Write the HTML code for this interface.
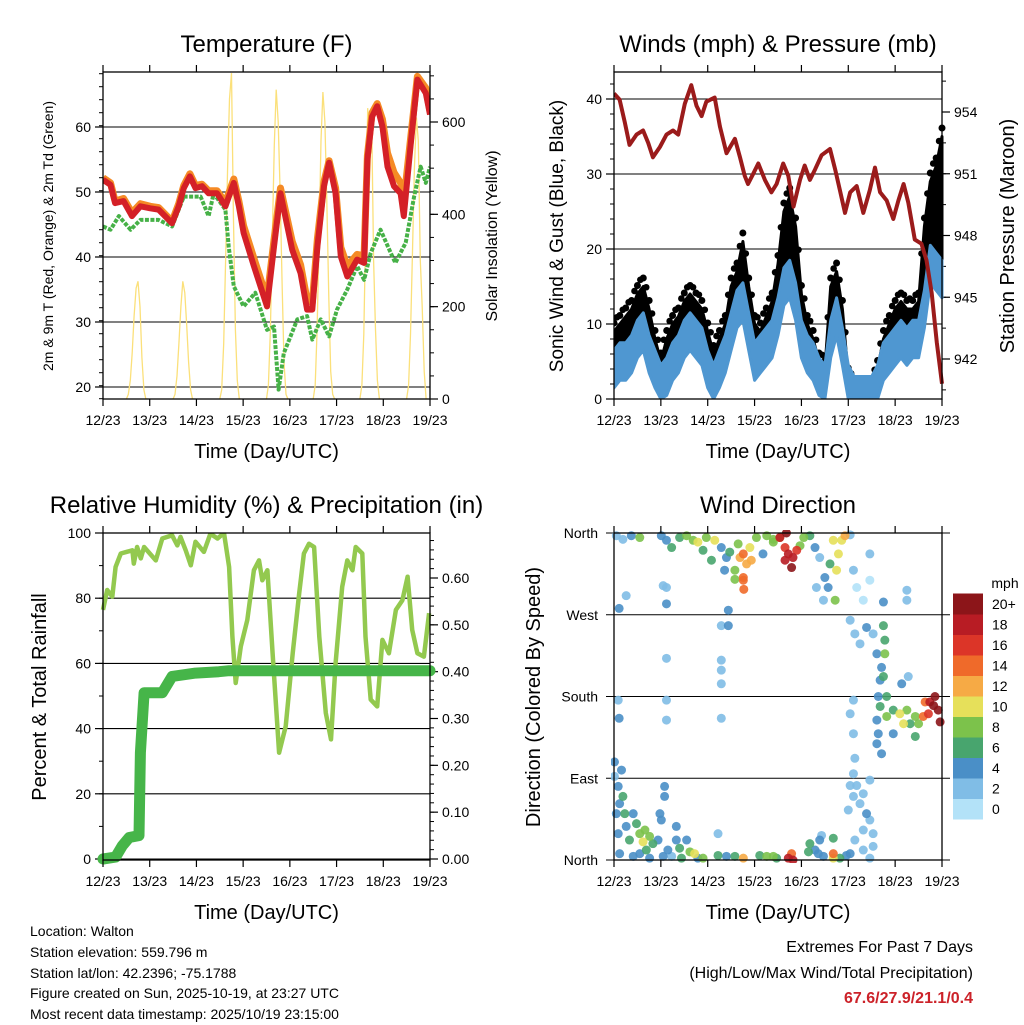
<!DOCTYPE html>
<html><head><meta charset="utf-8"><style>
body{margin:0;background:#fff}
svg{display:block;font-family:"Liberation Sans",sans-serif}
</style></head><body>
<svg id="c" width="1024" height="1024" viewBox="0 0 1024 1024">
<g id="layer"></g>
</svg>
<script>
// ---------- Temperature data ----------
const tempTimes=[0,.16,.26,.44,.62,.8,1.01,1.19,1.48,1.62,1.73,1.86,1.98,2.12,2.26,2.44,2.62,2.8,2.91,3.01,3.23,3.51,3.66,3.8,4.05,4.23,4.37,4.48,4.59,4.73,4.84,4.98,5.09,5.23,5.44,5.59,5.66,5.76,5.87,5.98,6.09,6.23,6.37,6.44,6.59,6.73,6.91,7.0];
const temp2m=[51.9,51.1,48.3,48.6,46.3,47.8,47.5,47.3,45.2,47.8,50.6,52.4,50.6,50.9,49.8,49.8,47.8,51.4,47.8,43.7,38.6,32.4,41.6,49.8,41.1,37.5,31.9,31.9,41.6,50.9,54.5,49.8,40.1,37,39.6,39.1,55,61.6,63.2,60.1,53.9,50.9,49.8,46.3,57.5,67.3,65.2,61.9];
const temp9m=[52.2,51.4,48.6,49,46.8,48.2,47.8,47.6,45.5,48.2,51,52.8,51,51.2,50.2,50.2,48.4,52,48.6,44.8,39.8,33.6,42.6,50.6,42.4,38.8,33.4,33,42.8,51.6,54.8,50.6,41.5,38.6,40.4,40.2,55.6,62.2,63.6,61.2,56,53,51.4,48.6,58.5,67.8,66,62.4];
const dewTimes=[0,.16,.34,.59,.8,1.19,1.48,1.73,2.09,2.26,2.37,2.62,2.69,2.8,3.01,3.26,3.51,3.66,3.76,3.87,4.16,4.37,4.48,4.66,4.84,5.01,5.23,5.44,5.59,5.73,5.94,6.16,6.26,6.48,6.66,6.8,6.91,7.0];
const dewVals=[44.7,44.2,46.3,44.2,45.7,45.7,44.7,49.3,49.3,46.3,49.8,47.3,41.6,35.5,32.4,34.5,28.8,29.3,19.6,25.2,30.4,30.9,27.3,30.4,27.8,31.9,35,38.6,36.5,40.6,44.2,40.6,39.1,42.2,49.3,53.9,51.4,53.9];
const solarHours=[12,13,14,15,16,17,18,19,20,21,22,23];
const solarDay0=[0,10,40,100,180,240,255,200,90,20,0,0];
const solarDay1=[0,10,50,120,200,255,230,160,80,20,0,0];
const solarDay2=[0,20,120,300,500,650,706,400,150,40,0,0];
const solarDay3=[0,30,150,350,550,670,600,450,250,80,10,0];
const solarDay4=[0,30,150,350,560,665,600,430,220,60,10,0];
const solarDay5=[0,30,140,380,630,560,620,300,150,40,0,0];
const solarDay6=[0,30,140,320,500,610,560,300,200,60,0,0];
const dayLabels=["12/23","13/23","14/23","15/23","16/23","17/23","18/23","19/23"];
const tempTicks=[20,30,40,50,60];
const solarTicks=[0,200,400,600];
// ---------- Wind data ----------
const windTimes=[0,.125,.25,.375,.5,.625,.75,.875,1,1.125,1.25,1.375,1.5,1.625,1.75,1.875,2,2.125,2.25,2.375,2.5,2.625,2.75,2.875,3,3.125,3.25,3.375,3.5,3.625,3.75,3.875,4,4.125,4.25,4.375,4.5,4.625,4.75,4.875,5,5.125,5.25,5.375,5.5,5.625,5.75,5.875,6,6.125,6.25,6.375,6.5,6.625,6.75,6.875,7];
const windSpeed=[4,5,5,6,8,9,6,4,2,3,5,6,8,9,8,7,4,2,4,6,9,12,13,9,5,6,7,8,11,15,16,13,8,6,5,3,2,8,11,7,2,.5,.5,.5,.5,2,5,6,7,8,7,8,8,12,18,17,16];
const windGust=[10,11,12,13,15,16,13,9,6,9,11,12,14,15,14,13,10,7,9,11,16,18,22,16,11,10,12,14,19,26,28,24,15,11,9,6,5,16,18,13,4,2,2,2,2,5,9,11,13,14,13,13,14,24,30,32,36];
const presTimes=[0,.12,.23,.33,.48,.62,.73,.83,.98,1.12,1.26,1.37,1.51,1.65,1.76,1.87,1.97,2.15,2.26,2.4,2.58,2.69,2.79,2.86,2.97,3.08,3.22,3.36,3.47,3.61,3.72,3.83,3.97,4.07,4.18,4.29,4.43,4.61,4.72,4.82,4.93,5.04,5.18,5.32,5.46,5.57,5.68,5.82,5.96,6.07,6.18,6.28,6.42,6.56,6.67,6.78,6.89,7.0];
const presVals=[954.9,954.6,953.5,952.4,952.9,953.1,952.5,951.8,952.3,952.9,953.1,952.9,954.4,955.3,954.3,953.8,954.5,954.7,953.3,952,952.7,951.8,950.9,950.5,951,951.5,950.7,950.1,950.5,951.5,950.9,949.4,950.7,951.4,950.7,951.2,951.9,952.2,951.2,950.2,949.1,950.1,950.4,949.1,950.2,951.3,950.1,949.7,948.8,949.7,950.5,949.6,947.8,947.6,946.8,945.2,942.8,940.8];
const windTicks=[0,10,20,30,40];
const presTicks=[942,945,948,951,954];
// ---------- RH / precip ----------
const rhTimes=[0,.09,.2,.27,.38,.63,.66,.73,.81,.88,1.13,1.27,1.48,1.59,1.66,1.77,1.88,1.98,2.16,2.3,2.45,2.59,2.7,2.77,2.84,2.95,3.09,3.23,3.34,3.41,3.52,3.63,3.77,3.91,4.06,4.2,4.3,4.41,4.52,4.63,4.77,4.88,4.98,5.12,5.23,5.34,5.41,5.55,5.62,5.73,5.87,5.98,6.12,6.27,6.41,6.52,6.62,6.73,6.87,6.98];
const rhVals=[76.4,82.5,80.5,89.6,93.7,94.7,90.6,95.7,92.2,95.7,91.6,98.3,99.3,96.2,98.8,94.7,90.1,97.3,94.2,99.8,98.3,100,89.6,68.2,54,65.2,73.3,88.6,91.6,85.5,88.6,63.1,32.6,40.7,63.1,81.5,93.7,96.7,95.7,68.2,44.8,36.7,60.1,83.5,91.6,88.6,95.7,93.7,68.2,48.9,46.8,67.2,63.1,76.4,79.4,86.6,70.3,63.1,62.1,75.4];
const precipTimes=[0,.27,.41,.56,.77,.8,.88,1.27,1.48,1.98,2.48,2.7,7.0];
const precipVals=[0,.004,.028,.046,.05,.227,.355,.355,.39,.397,.40,.402,.402];
const rhTicks=[0,20,40,60,80,100];
const precipTicks=[0,.1,.2,.3,.4,.5,.6];
// ---------- Wind direction ----------
const dirTimes=[.05,.19,.37,.55,.26,.11,1.01,1.12,1.23,1.40,1.55,1.69,1.79,1.90,1.97,2.15,2.08,2.29,2.40,2.36,2.47,2.58,2.65,2.76,2.83,2.76,2.77,2.90,3.04,3.18,3.26,3.40,3.54,3.65,3.72,3.82,3.79,3.90,3.97,4.05,4.18,4.29,4.39,4.50,4.57,4.61,4.68,4.79,4.75,4.86,4.93,5.04,5.11,5.18,5.32,5.46,5.46,1.12,1.12,1.05,2.44,2.29,2.44,2.76,2.58,2.93,2.69,3.40,3.54,3.65,3.68,4.72,4.32,4.47,6.25,6.25,5.75,
5.04,5.14,5.25,5.39,5.53,5.61,5.75,5.78,5.78,5.71,5.68,5.75,5.64,5.68,5.61,5.64,5.71,5.61,5.82,5.82,5.96,6.10,6.18,6.25,6.32,6.43,6.50,6.43,5.96,6.14,6.28,6.64,6.74,6.82,6.92,6.96,6.71,6.60,6.85,5.11,5.04,5.11,5.14,5.11,5.04,5.18,5.46,5.32,5.11,5.25,5.00,5.39,5.46,5.32,5.14,5.32,5.53,5.04,5.46,5.53,1.12,1.12,2.29,.09,.11,1.12,2.29,2.29,2.29,
.01,.01,.09,.16,.12,.05,.19,.23,.26,.41,.09,.33,.48,.55,.66,.76,.83,.62,.55,.69,.94,.98,1.08,1.08,1.01,1.05,1.15,1.33,1.23,1.33,1.40,1.55,1.62,1.72,1.79,1.90,2.22,2.22,2.40,2.58,2.76,3.11,3.26,3.40,3.47,3.72,3.79,3.82,4.15,4.18,4.29,4.36,4.39,4.43,4.47,4.68,4.68,4.68,4.82,4.96,.12,.41,.76,1.44];
const dirDegrees=[357,353,357,355,291,277,357,352,344,355,357,352,350,341,355,352,330,344,333,319,339,309,348,337,326,308,298,344,355,337,357,353,355,344,337,333,322,341,346,355,357,344,333,311,300,326,352,337,319,352,357,358,319,300,286,337,308,300,282,302,275,258,258,311,319,330,333,350,355,330,360,286,300,286,297,286,284,
264,249,238,256,249,227,258,242,227,212,198,202,180,169,154,139,117,128,180,158,165,161,150,165,150,158,150,136,139,194,202,174,174,170,165,152,161,158,180,176,161,139,112,95,82,82,88,73,70,62,55,51,44,33,22,11,15,7,2,29,176,154,156,176,156,222,220,209,194,
108,92,81,99,62,51,70,51,37,51,29,22,40,29,33,26,18,20,7,11,22,51,81,70,44,4,11,37,4,22,13,22,9,7,2,2,5,29,4,4,2,5,4,4,2,2,7,0,9,18,11,7,22,27,4,24,7,2,2,5,7,4,2,2];
const dirSpeeds=[2,2,4,7,2,4,4,4,5,6,8,7,10,6,7,10,5,4,4,4,6,7,8,13,12,14,13,9,8,4,8,7,18,16,17,18,19,15,8,7,6,3,2,4,4,6,9,10,10,9,12,1,1,0,0,1,0,2,4,1,3,1,3,13,7,12,11,7,11,17,19,7,1,1,1,1,3,
1,1,1,4,1,4,6,6,7,4,4,6,4,5,4,4,4,4,5,7,6,10,9,7,6,7,7,6,4,4,2,14,18,20,21,19,16,14,20,1,1,1,2,1,2,2,1,2,1,1,1,4,1,2,1,1,1,4,1,1,2,2,1,2,3,1,1,1,1,
4,2,4,4,3,4,6,6,4,4,4,5,5,8,8,8,6,10,4,5,4,4,3,3,4,3,4,3,2,4,5,4,7,9,3,8,5,2,4,6,12,5,7,7,6,18,13,17,5,6,4,3,4,2,4,6,13,10,6,4,4,3,4,6];
const dirTickLabels=["North","East","South","West","North"];
const dirTickValues=[0,90,180,270,360];
const speedBinLabels=["0","2","4","6","8","10","12","14","16","18","20+"];
const speedBinColors=["#b3e2f8","#80bde6","#4a8fc7","#48a56e","#7cc24b","#e6e05a","#f6aa45","#ef6a2a","#dc3528","#b81c24","#8c1519"];

const NS="http://www.w3.org/2000/svg";
const root=document.getElementById('layer');
function mk(tag,attrs,parent){const e=document.createElementNS(NS,tag);for(const k in attrs)e.setAttribute(k,attrs[k]);(parent||root).appendChild(e);return e;}
function txt(s,x,y,size,anchor,parent,extra){const e=mk('text',Object.assign({x:x,y:y,'font-size':size,'text-anchor':anchor||'middle',fill:'#000'},extra||{}),parent);e.textContent=s;return e;}
function lin(d0,d1,r0,r1){return v=>r0+(v-d0)*(r1-r0)/(d1-d0);}

function panel(name,L,R,T,B,title){
  const g=mk('g',{});
  
  
  const xs=lin(0,7,L,R);
  const t=txt(title,(L+R)/2,T-20,24,'middle',g);
  
  
  return {g,xs};
}
function frame(p,L,R,T,B){
  const g=mk('g',{},p.g);
  
  
  mk('rect',{x:L,y:T,width:R-L,height:B-T,fill:'none',stroke:'#000','stroke-width':1.3},g);
  for(let i=0;i<=7;i++){const x=p.xs(i);
    mk('line',{x1:x,x2:x,y1:B,y2:B+7,stroke:'#000','stroke-width':1.2},g);
    mk('line',{x1:x,x2:x,y1:T,y2:T-7,stroke:'#000','stroke-width':1.2},g);
    const l=txt(dayLabels[i],x,B+26,14,'middle',g);
    
    
  }
  const xt=txt('Time (Day/UTC)',(L+R)/2,B+59,20,'middle',g);
  
  
}
function yAxis(p,L,R,ys,ticks,fmt,side,minorStep,grid,dmin,dmax){
  const g=mk('g',{},p.g);
  
  
  const X=side==='left'?L:R, dir=side==='left'?-1:1;
  if(minorStep){for(let v=dmin;v<=dmax+1e-9;v+=minorStep){const y=ys(v);mk('line',{x1:X,x2:X+dir*4,y1:y,y2:y,stroke:'#000','stroke-width':1},g);}}
  ticks.forEach(v=>{const y=ys(v);
    if(grid)mk('line',{x1:L,x2:R,y1:y,y2:y,stroke:'#000','stroke-width':1.1},g);
    mk('line',{x1:X,x2:X+dir*8,y1:y,y2:y,stroke:'#000','stroke-width':1.2},g);
    const l=txt(fmt(v),X+dir*12,y+5,14,side==='left'?'end':'start',g);
    
    
  });
}
function vtitle(s,x,y,size,parent,name){const e=txt(s,x,y,size,'middle',parent,{transform:`rotate(-90 ${x} ${y})`});}
function path(xsArr,ysArr,xs,ys){return xsArr.map((t,i)=>(i?'L':'M')+xs(t).toFixed(1)+','+ys(ysArr[i]).toFixed(1)).join('');}

// ===== Panel 1: Temperature =====
(function(){
  const L=103,R=430,T=72,B=399;
  const p=panel('temperature-panel',L,R,T,B,'Temperature (F)');
  const yT=lin(20,60,387,127), yS=lin(0,600,399,122);
  const clip=mk('clipPath',{id:'c1'},p.g);mk('rect',{x:L,y:T,width:R-L,height:B-T},clip);
  yAxis(p,L,R,yT,tempTicks,v=>v,'left',2,true,18.2,68.4);
  yAxis(p,L,R,yS,solarTicks,v=>v,'right',50,false,0,700);
  const pg=mk('g',{'clip-path':'url(#c1)'},p.g);
  const solarDays=[solarDay0,solarDay1,solarDay2,solarDay3,solarDay4,solarDay5,solarDay6];
  solarDays.forEach((arr,d)=>{
    const ts=solarHours.map(h=>d+h/24);
    const e=mk('path',{d:path(ts,arr,p.xs,yS),fill:'none',stroke:'#fbe07a','stroke-width':1.3},pg);
    
    
  });
  let e=mk('path',{d:path(dewTimes,dewVals,p.xs,yT),fill:'none',stroke:'#46b147','stroke-width':4,'stroke-dasharray':'4,1.5','stroke-linejoin':'round'},pg);
  
  
  e=mk('path',{d:path(tempTimes,temp9m,p.xs,yT),fill:'none',stroke:'#f58a25','stroke-width':7,'stroke-linejoin':'round'},pg);
  
  
  e=mk('path',{d:path(tempTimes,temp2m,p.xs,yT),fill:'none',stroke:'#d42027','stroke-width':6,'stroke-linejoin':'round'},pg);
  
  
  frame(p,L,R,T,B);
  vtitle('2m & 9m T (Red, Orange) & 2m Td (Green)',53,236,14,p.g,'y-axis-title-left');
  vtitle('Solar Insolation (Yellow)',497,236,16,p.g,'y-axis-title-right');
})();

// ===== Panel 2: Winds =====
(function(){
  const L=614,R=942,T=72,B=399;
  const p=panel('winds-panel',L,R,T,B,'Winds (mph) & Pressure (mb)');
  const yW=lin(0,40,399,99), yP=lin(942,954,359,112);
  const clip=mk('clipPath',{id:'c2'},p.g);mk('rect',{x:L,y:T-4,width:R-L+4,height:B-T+4},clip);
  yAxis(p,L,R,yW,windTicks,v=>v,'left',2,true,0,43.6);
  yAxis(p,L,R,yP,presTicks,v=>v,'right',1.5,false,940.5,955.5);
  const pg=mk('g',{'clip-path':'url(#c2)'},p.g);
  const top=windTimes.map((t,i)=>p.xs(t).toFixed(1)+','+yW(windGust[i]-1).toFixed(1));
  const bot=windTimes.map((t,i)=>p.xs(t).toFixed(1)+','+yW(windSpeed[i]+2).toFixed(1)).reverse();
  let e=mk('polygon',{points:top.concat(bot).join(' '),fill:'#000',stroke:'#000','stroke-width':3,'stroke-linejoin':'round'},pg);
  
  
  windTimes.forEach((t,i)=>{const d=mk('circle',{cx:p.xs(t),cy:yW(windGust[i])-1,r:3.5,fill:'#000'},pg);
    
    
    if(i<windTimes.length-1){const m=mk('circle',{cx:(p.xs(t)+p.xs(windTimes[i+1]))/2,cy:yW((windGust[i]+windGust[i+1])/2)-3,r:3.3,fill:'#000'},pg);
      
      }
  });
  const bt=windTimes.map((t,i)=>p.xs(t).toFixed(1)+','+yW(windSpeed[i]+2.5).toFixed(1));
  const bb=windTimes.map((t,i)=>p.xs(t).toFixed(1)+','+yW(Math.max(0,windSpeed[i]-2.5)).toFixed(1)).reverse();
  e=mk('polygon',{points:bt.concat(bb).join(' '),fill:'#4f97d1',stroke:'#4f97d1','stroke-width':3,'stroke-linejoin':'round'},pg);
  
  
  e=mk('path',{d:path(presTimes,presVals,p.xs,yP),fill:'none',stroke:'#9b1b1b','stroke-width':4,'stroke-linejoin':'round'},pg);
  
  
  frame(p,L,R,T,B);
  vtitle('Sonic Wind & Gust (Blue, Black)',563,236,19,p.g,'y-axis-title-left');
  vtitle('Station Pressure (Maroon)',1014,236,20,p.g,'y-axis-title-right');
})();

// ===== Panel 3: RH =====
(function(){
  const L=103,R=430,T=533,B=860;
  const p=panel('humidity-panel',L,R,T,B,'Relative Humidity (%) & Precipitation (in)');
  const yR=lin(0,100,859,533), yP=lin(0,.6,859,578);
  const clip=mk('clipPath',{id:'c3'},p.g);mk('rect',{x:L-6,y:T,width:R-L+12,height:B-T+6},clip);
  yAxis(p,L,R,yR,rhTicks,v=>v,'left',10,true,0,100);
  yAxis(p,L,R,yP,precipTicks,v=>v.toFixed(2),'right',.02,false,0,.69);
  const pg=mk('g',{'clip-path':'url(#c3)'},p.g);
  let e=mk('path',{d:path(rhTimes,rhVals,p.xs,yR),fill:'none',stroke:'#93c94f','stroke-width':4.5,'stroke-linejoin':'round'},pg);
  
  
  e=mk('path',{d:path(precipTimes,precipVals,p.xs,yP),fill:'none',stroke:'#46b549','stroke-width':11,'stroke-linejoin':'round','stroke-linecap':'round'},pg);
  
  
  frame(p,L,R,T,B);
  vtitle('Percent & Total Rainfall',46,697,20,p.g,'y-axis-title-left');
})();

// ===== Panel 4: Wind Direction =====
(function(){
  const L=614,R=942,T=533,B=860;
  const p=panel('wind-direction-panel',L,R,T,B,'Wind Direction');
  const yD=lin(0,360,860,533);
  const g=mk('g',{},p.g);
  
  
  dirTickValues.forEach((v,i)=>{const y=yD(v);
    mk('line',{x1:L-8,x2:R+8,y1:y,y2:y,stroke:'#000','stroke-width':1.1},g);
    const l=txt(dirTickLabels[i],L-16,y+5,14,'end',g);
    
    });
  const clip=mk('clipPath',{id:'c4'},p.g);mk('rect',{x:L-3,y:T-3,width:R-L+6,height:B-T+6},clip);
  const pg=mk('g',{'clip-path':'url(#c4)'},p.g);
  const order=dirSpeeds.map((s,i)=>i).sort((a,b)=>dirSpeeds[a]-dirSpeeds[b]);
  order.forEach(i=>{const s=dirSpeeds[i];const bin=Math.min(10,Math.round(s/2));
    const c=mk('circle',{cx:p.xs(dirTimes[i]),cy:yD(dirDegrees[i]),r:4.5,fill:speedBinColors[bin],'fill-opacity':0.9},pg);
    
    });
  frame(p,L,R,T,B);
  vtitle('Direction (Colored By Speed)',540,697,20,p.g,'y-axis-title-left');
  const cb=mk('g',{},p.g);
  
  
  const h=20.5;
  speedBinColors.forEach((c,i)=>{const y=819-(i+1)*h;
    const r=mk('rect',{x:953,y:y,width:30,height:h+0.5,fill:c},cb);
    
    
    const l=txt(speedBinLabels[i],992,y+h/2+5,14,'start',cb);
    
    });
  const u=txt('mph',1005,588,14,'middle',cb);
  
  
})();
</script>
<div style="position:absolute;left:0;top:0;width:1024px;height:1024px;pointer-events:none;font-family:'Liberation Sans',sans-serif;font-size:14px;color:#000">
  <div style="position:absolute;left:30px;top:921px;line-height:20.8px">
    <div>Location: Walton</div>
    <div>Station elevation: 559.796 m</div>
    <div>Station lat/lon: 42.2396; -75.1788</div>
    <div>Figure created on Sun, 2025-10-19, at 23:27 UTC</div>
    <div>Most recent data timestamp: 2025/10/19 23:15:00</div>
  </div>
  <div style="position:absolute;right:51px;top:935px;text-align:right;font-size:16px;line-height:25.5px">
    <div>Extremes For Past 7 Days</div>
    <div>(High/Low/Max Wind/Total Precipitation)</div>
    <div style="color:#cc2229;font-weight:bold">67.6/27.9/21.1/0.4</div>
  </div>
</div>
</body></html>
